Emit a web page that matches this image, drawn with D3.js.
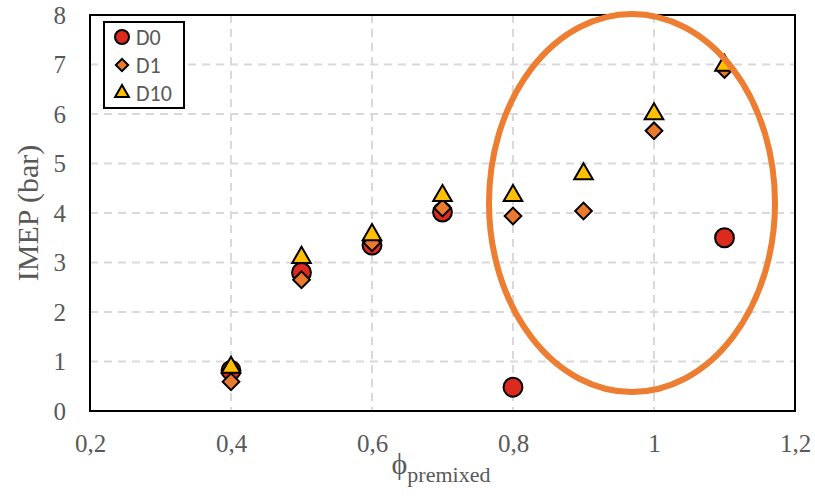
<!DOCTYPE html>
<html>
<head>
<meta charset="utf-8">
<script src="https://cdn.jsdelivr.net/npm/d3@7"></script>
<style>
  body { margin: 0; background: #fff; }
</style>
</head>
<body>
<script>
// values
const phi = [0.4, 0.5, 0.6, 0.7, 0.8, 0.9, 1.0, 1.1]
const d0 = [0.82, 2.8, 3.35, 4.02, 0.48, null, null, 3.5]
const d1 = [0.59, 2.65, 3.4, 4.1, 3.94, 4.04, 5.66, 6.9]
const d10 = [0.88, 3.1, 3.56, 4.35, 4.35, 4.79, 6.0, 6.98]
const x_ticks = [0.2, 0.4, 0.6, 0.8, 1.0, 1.2]
const y_ticks = [0, 1, 2, 3, 4, 5, 6, 7, 8]

const width = 815
const height = 498
const plot_left = 90, plot_right = 795, plot_top = 15, plot_bottom = 411
const label_color = "#595959"
const grid_color = "#d9d9d9"

var svg = d3.select("body").append("svg")
    .attr("width", width)
    .attr("height", height);

var x = d3.scaleLinear().domain([0.2, 1.2]).range([plot_left, plot_right])
var y = d3.scaleLinear().domain([0, 8]).range([plot_bottom, plot_top])

// grid
svg.append("g").selectAll("line").data(y_ticks.slice(1, -1)).join("line")
    .attr("x1", plot_left).attr("x2", plot_right)
    .attr("y1", d => y(d)).attr("y2", d => y(d))
    .style("stroke", grid_color).style("stroke-width", 2)
    .style("stroke-dasharray", "8,6");

svg.append("g").selectAll("line").data(x_ticks.slice(1, -1)).join("line")
    .attr("x1", d => x(d)).attr("x2", d => x(d))
    .attr("y1", plot_top).attr("y2", plot_bottom)
    .style("stroke", grid_color).style("stroke-width", 2)
    .style("stroke-dasharray", "8,6");

// axes (labels only, frame drawn below)
var xAxis = svg.append("g").attr("transform", "translate(0," + plot_bottom + ")")
    .call(d3.axisBottom(x).tickValues(x_ticks).tickSize(0).tickPadding(23)
        .tickFormat(d => d3.format("~g")(d).replace(".", ",")));
var yAxis = svg.append("g").attr("transform", "translate(" + plot_left + ",0)")
    .call(d3.axisLeft(y).tickValues(y_ticks).tickSize(0).tickPadding(24));
[xAxis, yAxis].forEach(a => {
  a.select(".domain").remove();
  a.selectAll("text")
    .style("font-family", "'Liberation Serif', serif")
    .style("font-size", "25px")
    .style("fill", label_color);
});

// frame
svg.append("rect")
    .attr("x", plot_left).attr("y", plot_top)
    .attr("width", plot_right - plot_left).attr("height", plot_bottom - plot_top)
    .style("fill", "none").style("stroke", "#000").style("stroke-width", 2);

// axis titles
svg.append("text")
    .attr("transform", "translate(38," + ((plot_top + plot_bottom) / 2) + ") rotate(-90)")
    .attr("text-anchor", "middle")
    .style("font-family", "'Liberation Serif', serif")
    .style("font-size", "30px")
    .style("fill", label_color)
    .text("IMEP (bar)");

var xt = svg.append("text")
    .attr("x", 441).attr("y", 474)
    .attr("text-anchor", "middle")
    .style("font-family", "'Liberation Serif', serif")
    .style("fill", label_color);
xt.append("tspan").style("font-size", "30px").text("ϕ");
xt.append("tspan").style("font-size", "22px").attr("dy", 8).text("premixed");

// markers
const series = [
  { name: "D0", values: d0, type: d3.symbolCircle, size: 280, rot: 0, fill: "#dd2a1f" },
  { name: "D1", values: d1, type: d3.symbolSquare, size: 140, rot: 45, fill: "#ec7a2c" },
  { name: "D10", values: d10, type: d3.symbolTriangle, size: 150, rot: 0, fill: "#ffbf00" }
]

series.forEach(s => {
  var pts = phi.map((p, i) => [p, s.values[i]]).filter(d => d[1] != null)
  svg.append("g").selectAll("path").data(pts).join("path")
      .attr("d", d3.symbol().type(s.type).size(s.size))
      .attr("transform", d => "translate(" + x(d[0]) + "," + y(d[1]) + ") rotate(" + s.rot + ")")
      .style("fill", s.fill).style("stroke", "#000").style("stroke-width", 2);
});

// highlight ellipse
svg.append("ellipse")
    .attr("cx", 632).attr("cy", 203)
    .attr("rx", 143).attr("ry", 189)
    .style("fill", "none").style("stroke", "#ed7d31").style("stroke-width", 6);

// legend
var lg = svg.append("g").attr("transform", "translate(104,22)")
lg.append("rect").attr("width", 80).attr("height", 86)
    .style("fill", "#fff").style("stroke", "#000").style("stroke-width", 2);
series.forEach((s, i) => {
  var ly = 15 + i * 28
  lg.append("path")
      .attr("d", d3.symbol().type(s.type).size(s.size * 0.55))
      .attr("transform", "translate(18," + ly + ") rotate(" + s.rot + ")")
      .style("fill", s.fill).style("stroke", "#000").style("stroke-width", 2);
  lg.append("text").attr("x", 32).attr("y", ly + 8)
      .style("font-family", "Carlito, 'Open Sans', sans-serif")
      .style("font-size", "22px")
      .style("fill", label_color)
      .text(s.name);
});
</script>
</body>
</html>
